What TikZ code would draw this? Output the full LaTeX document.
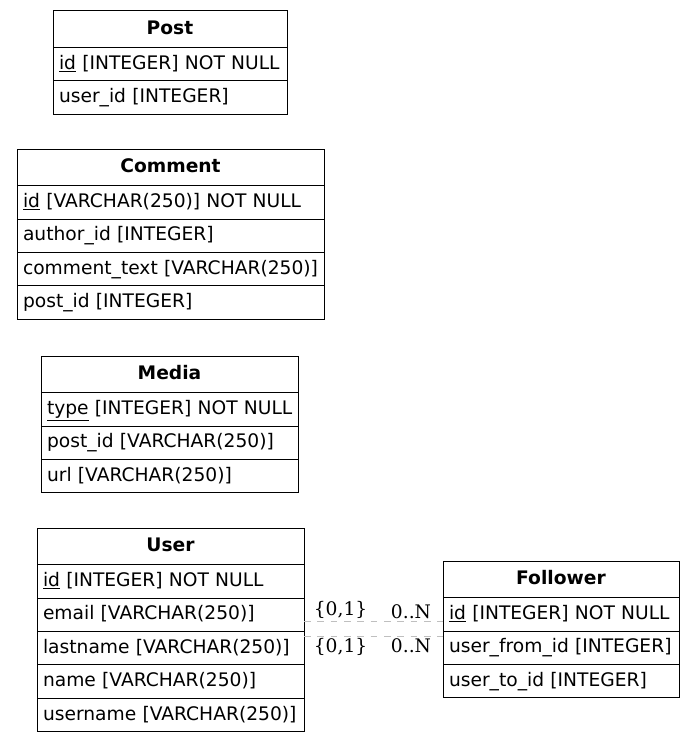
\documentclass[tikz,border=0pt]{standalone}
\usepackage{fontspec}
\setmainfont{DejaVu Sans}
\newfontfamily\cardfont{DejaVu Serif}
\usetikzlibrary{positioning}
\tikzstyle{header} = [
    rectangle,
    draw=black,
    line width=0.75pt,
    outer sep=0pt,
    inner xsep=4.5pt,
    minimum height=27.4pt,
    text height=10.5pt,
    text depth=3pt,
    align=center,
    font=\fontsize{14pt}{16pt}\selectfont\bfseries
]
\tikzstyle{field} = [
    rectangle,
    draw=black,
    line width=0.75pt,
    outer sep=0pt,
    inner xsep=4.5pt,
    minimum height=25.1pt,
    text height=10.5pt,
    text depth=3pt,
    align=left,
    execute at begin node=\hbox\bgroup,
    execute at end node=\egroup,
    font=\fontsize{14pt}{16pt}\selectfont
]
\tikzstyle{post table} = [text width=166.5pt]
\tikzstyle{comment table} = [text width=221.25pt]
\tikzstyle{media table} = [text width=183.75pt]
\tikzstyle{user table} = [text width=191.25pt]
\tikzstyle{follower table} = [text width=168pt]
\tikzstyle{relation} = [draw=black!25, line width=0.75pt, dash pattern=on 5pt off 5pt]
\tikzstyle{card} = [inner sep=1.5pt, font=\cardfont\fontsize{14pt}{16pt}\selectfont]

\begin{document}
\begin{tikzpicture}[x=0.75pt, y=-0.75pt, node distance=0pt]

\fill [white] (0,0) rectangle (695,742);
\useasboundingbox (0,0) rectangle (695,742);

% Post
\node (post) [header, post table, anchor=north west] at (53,11) {Post};
\node (post1) [field, post table, below=of post] {\underline{id} [INTEGER] NOT NULL};
\node (post2) [field, post table, below=of post1] {user\_id [INTEGER]};

% Comment
\node (comment) [header, comment table, anchor=north west] at (17,149) {Comment};
\node (comment1) [field, comment table, below=of comment] {\underline{id} [VARCHAR(250)] NOT NULL};
\node (comment2) [field, comment table, below=of comment1] {author\_id [INTEGER]};
\node (comment3) [field, comment table, below=of comment2] {comment\_text [VARCHAR(250)]};
\node (comment4) [field, comment table, below=of comment3] {post\_id [INTEGER]};

% Media
\node (media) [header, media table, anchor=north west] at (41,356) {Media};
\node (media1) [field, media table, below=of media] {\underline{type} [INTEGER] NOT NULL};
\node (media2) [field, media table, below=of media1] {post\_id [VARCHAR(250)]};
\node (media3) [field, media table, below=of media2] {url [VARCHAR(250)]};

% User
\node (user) [header, user table, anchor=north west] at (37,528) {User};
\node (user1) [field, user table, below=of user] {\underline{id} [INTEGER] NOT NULL};
\node (user2) [field, user table, below=of user1] {email [VARCHAR(250)]};
\node (user3) [field, user table, below=of user2] {lastname [VARCHAR(250)]};
\node (user4) [field, user table, below=of user3] {name [VARCHAR(250)]};
\node (user5) [field, user table, below=of user4] {username [VARCHAR(250)]};

% Follower
\node (follower) [header, follower table, anchor=north west] at (443,561) {Follower};
\node (follower1) [field, follower table, below=of follower] {\underline{id} [INTEGER] NOT NULL};
\node (follower2) [field, follower table, below=of follower1] {user\_from\_id [INTEGER]};
\node (follower3) [field, follower table, below=of follower2] {user\_to\_id [INTEGER]};

% relations
\draw [relation] (user2.east |- 0,621) -- (follower1.west |- 0,621)
    node [card, pos=0.263, above] {\{0,1\}}
    node [card, pos=0.77, above] {0..N};
\draw [relation] (user3.east |- 0,636) -- (follower2.west |- 0,636)
    node [card, pos=0.263, below] {\{0,1\}}
    node [card, pos=0.77, below] {0..N};

\end{tikzpicture}
\end{document}
